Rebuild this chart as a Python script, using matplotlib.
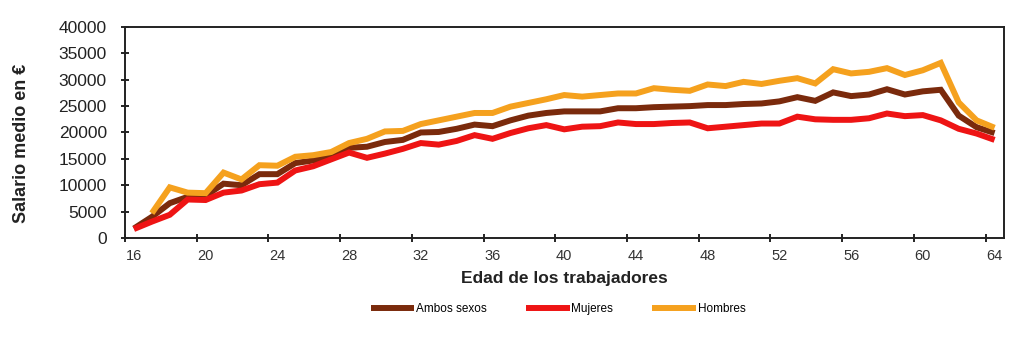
import numpy as np
import matplotlib as mpl
import matplotlib.pyplot as plt
from matplotlib.ticker import FixedLocator, NullFormatter

# Salario medio anual por edad (euros)
edades = list(range(16, 65))

ambos_sexos = [
    1800, 4000, 6600, 7800, 8000, 10300, 10000, 12100, 12100, 14200,
    14700, 15400, 17100, 17300, 18200, 18600, 20000, 20100, 20700, 21500,
    21200, 22300, 23200, 23700, 24000, 24000, 24000, 24600, 24600, 24800,
    24900, 25000, 25200, 25200, 25400, 25500, 25900, 26700, 26000, 27600,
    26900, 27200, 28200, 27200, 27800, 28100, 23200, 21000, 19900,
]

mujeres = [
    1700, 3100, 4400, 7300, 7200, 8600, 9000, 10200, 10500, 12800,
    13600, 14900, 16200, 15200, 16000, 16900, 18000, 17700, 18400, 19500,
    18800, 19900, 20800, 21400, 20600, 21100, 21200, 21900, 21600, 21600,
    21800, 21900, 20800, 21100, 21400, 21700, 21700, 23000, 22500, 22400,
    22400, 22700, 23600, 23100, 23300, 22300, 20700, 19800, 18600,
]

hombres = [
    np.nan, 4700, 9600, 8600, 8500, 12400, 11100, 13800, 13700, 15400,
    15700, 16300, 18000, 18800, 20200, 20300, 21600, 22300, 23000, 23700,
    23700, 24900, 25600, 26300, 27100, 26800, 27100, 27400, 27400, 28400,
    28100, 27900, 29100, 28800, 29600, 29200, 29800, 30300, 29300, 32000,
    31200, 31500, 32200, 30900, 31800, 33200, 25700, 22300, 20900,
]

series = ["Ambos sexos", "Mujeres", "Hombres"]
colores = ["#7a2a0c", "#ee1414", "#f5a11e"]

label_ticks = list(range(16, 65, 4))
y_ticks = list(range(0, 40001, 5000))

mpl.rcParams.update({
    "font.family": "sans-serif",
    "font.sans-serif": ["Liberation Sans", "DejaVu Sans"],
})
NARROW = ["Liberation Sans Narrow", "Liberation Sans"]

fig = plt.figure(figsize=(10.24, 3.4), dpi=100)
ax = fig.add_axes([0.122, 0.30, 0.858, 0.6206])

for nombre, valores, color in zip(series, [ambos_sexos, mujeres, hombres], colores):
    ax.plot(edades, valores, color=color, lw=4.3, label=nombre,
            solid_joinstyle="miter", solid_capstyle="butt")

# category-style axis: tick marks between categories, labels on the category
ax.set_xlim(15.5, 64.5)
ax.xaxis.set_major_locator(FixedLocator([t - 0.5 for t in label_ticks]))
ax.xaxis.set_major_formatter(NullFormatter())
ax.xaxis.set_minor_locator(FixedLocator(label_ticks))
ax.set_xticklabels([str(t) for t in label_ticks], minor=True,
                   family=NARROW, fontsize=10.5, color="#333333")
ax.tick_params(axis="x", which="major", direction="inout", length=6, width=1.2)
ax.tick_params(axis="x", which="minor", length=0, pad=8)

ax.set_ylim(0, 40000)
ax.set_yticks(y_ticks)
ax.set_yticklabels([str(t) for t in y_ticks], fontsize=12.5, color="#222222")
ax.tick_params(axis="y", direction="inout", length=6, width=1.2, pad=10)

for sp in ax.spines.values():
    sp.set_linewidth(1.4)
    sp.set_color("#222222")

ax.set_xlabel("Edad de los trabajadores", fontsize=12.5, fontweight="bold",
              labelpad=6, color="#222222")
ax.set_ylabel("Salario medio en €", fontsize=13, fontweight="bold",
              color="#222222")
ax.yaxis.set_label_coords(-0.108, 0.45)

fig.legend(loc="center", bbox_to_anchor=(0.545, 0.092), ncol=3, frameon=False,
           prop={"family": NARROW, "size": 8.5}, handlelength=3.7,
           handletextpad=0.15, columnspacing=3.3)

fig.savefig("out.png", dpi=100)
